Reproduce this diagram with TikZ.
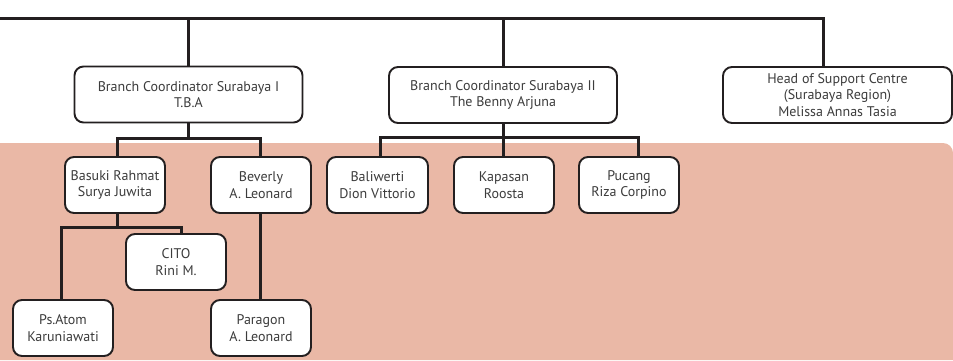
\documentclass[tikz,border=0pt]{standalone}
\usepackage{fontspec}
\setmainfont{PT Sans}
\definecolor{pinkbg}{RGB}{234,184,166}
\definecolor{linec}{RGB}{35,31,32}
\definecolor{txtc}{RGB}{60,60,60}
\begin{document}
\begin{tikzpicture}[x=1pt,y=-1pt,
  orgbox/.style 2 args={draw=linec,line width=1.9pt,rounded corners=9pt,fill=white,
    minimum width=#1pt,minimum height=#2pt,inner sep=0pt,align=center,
    font=\fontsize{14}{16.5}\selectfont,text=txtc},
  conn/.style={draw=linec,line width=3pt}]
\useasboundingbox (0,0) rectangle (953,360);
\fill[pinkbg] (0,360) -- (0,143) [rounded corners=10pt] -- (953,143) [sharp corners] -- (953,360) -- cycle;
% nodes
\node[orgbox={228}{56}] (b1) at (188.5,94.5) {Branch Coordinator Surabaya I\\T.B.A};
\node[orgbox={228}{56}] (b2) at (503,95) {Branch Coordinator Surabaya II\\The Benny Arjuna};
\node[orgbox={229}{56}] (b3) at (837.5,95) {Head of Support Centre\\(Surabaya Region)\\Melissa Annas Tasia};
\node[orgbox={100}{56}] (basuki) at (115,185) {Basuki Rahmat\\Surya Juwita};
\node[orgbox={100}{56}] (beverly) at (261,185) {Beverly\\A. Leonard};
\node[orgbox={100}{56}] (cito) at (176,262) {CITO\\Rini M.};
\node[orgbox={100}{56}] (psatom) at (63,328) {Ps.Atom\\Karuniawati};
\node[orgbox={100}{56}] (paragon) at (261,328) {Paragon\\A. Leonard};
\node[orgbox={101}{56}] (baliwerti) at (377.5,185) {Baliwerti\\Dion Vittorio};
\node[orgbox={100}{56}] (kapasan) at (504,185) {Kapasan\\Roosta};
\node[orgbox={100}{56}] (pucang) at (629,185) {Pucang\\Riza Corpino};
% top line
\coordinate (tl) at (0,18);
\draw[conn] (tl) -| ([xshift=-14.5pt]b3.north);
\draw[conn] (b1.north) -- (b1.north |- tl);
\draw[conn] (b2.north) -- (b2.north |- tl);
% branch 1
\draw[conn] (b1.south) -- ++(0,15) coordinate (j1);
\draw[conn] (j1) -| ([xshift=2pt]basuki.north);
\draw[conn] (j1) -| ([xshift=-1pt]beverly.north);
\draw[conn] ([xshift=2pt]basuki.south) -- ++(0,14) coordinate (j2);
\draw[conn] (j2) -| ([xshift=5pt]cito.north);
\draw[conn] (j2) -| ([xshift=-2pt]psatom.north);
\draw[conn] ([xshift=-1pt]beverly.south) -- ([xshift=-1pt]paragon.north);
% branch 2
\draw[conn] (b2.south) -- ++(0,14) coordinate (j3);
\draw[conn] (j3) -| ([xshift=2.5pt]baliwerti.north);
\draw[conn] (j3) -| ([xshift=9pt]pucang.north);
\draw[conn] (j3) -- (j3 |- kapasan.north);
\end{tikzpicture}
\end{document}
